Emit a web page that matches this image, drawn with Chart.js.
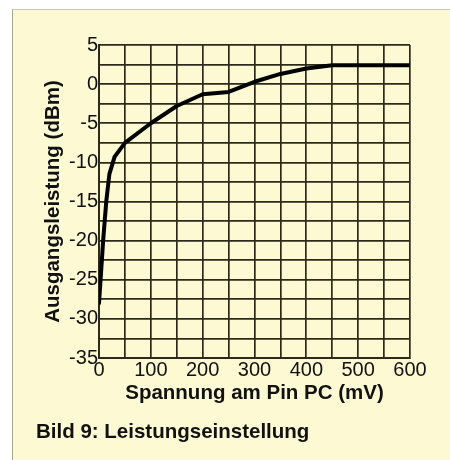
<!DOCTYPE html>
<html>
<head>
<meta charset="utf-8">
<script src="https://cdn.jsdelivr.net/npm/chart.js@4.4.1/dist/chart.umd.min.js"></script>
<style>
  html, body { margin: 0; padding: 0; background: #ffffff; }
  #frame {
    position: absolute; left: 12px; top: 9px; width: 438px; height: 451px;
    background: #fdf9d3;
    border-left: 1px solid #a9a78e;
    border-top: 1px solid #c9c8bd;
  }
  #wrap { position: absolute; left: 0; top: 0; width: 450px; height: 460px; }
  #caption {
    position: absolute; left: 36px; top: 419px;
    font: bold 20.5px "Liberation Sans", Arial, sans-serif;
    color: #111; line-height: 24px;
  }
</style>
</head>
<body>
<div id="frame"></div>
<div id="wrap"><canvas id="powerChart" width="450" height="460"></canvas></div>
<div id="caption">Bild 9: Leistungseinstellung</div>
<script>
// Ausgangsleistung über der Steuerspannung am Pin PC
const voltageMv = [0, 3, 8, 14, 20, 30, 50, 100, 150, 200, 250, 300, 350, 400, 450, 500, 550, 600];
const outputDbm = [-28, -25, -20, -15, -11.5, -9.3, -7.5, -5, -2.8, -1.3, -1.0, 0.3, 1.3, 2.0, 2.4, 2.4, 2.4, 2.4];
const xTicks = [0, 100, 200, 300, 400, 500, 600];
const yTicks = [-35, -30, -25, -20, -15, -10, -5, 0, 5];

document.addEventListener("DOMContentLoaded", function () {
    const canvas = document.getElementById('powerChart');
    const ctx = canvas.getContext('2d');

    const points = voltageMv.map((v, i) => ({ x: v, y: outputDbm[i] }));
    const gridColor = '#2e2a1a';
    const tickFont = { family: '"Liberation Sans", Arial, sans-serif', size: 20 };
    const titleFont = { family: '"Liberation Sans", Arial, sans-serif', size: 20.5, weight: 'bold' };

    new Chart(ctx, {
        type: 'scatter',
        data: {
            datasets: [{
                data: points,
                showLine: true,
                borderColor: '#000000',
                borderWidth: 4,
                borderJoinStyle: 'round',
                borderCapStyle: 'round',
                pointRadius: 0,
                tension: 0
            }]
        },
        options: {
            responsive: false,
            animation: false,
            layout: { padding: { left: 0, top: 45, right: 40, bottom: 0 } },
            plugins: {
                legend: { display: false },
                tooltip: { enabled: false }
            },
            scales: {
                x: {
                    type: 'linear',
                    min: 0,
                    max: 600,
                    afterFit: function (scale) { scale.height = 102; },
                    grid: { color: gridColor, lineWidth: 1.7, drawTicks: false },
                    border: { color: gridColor, width: 2 },
                    ticks: {
                        stepSize: 50,
                        padding: 0,
                        maxRotation: 0,
                        autoSkip: false,
                        color: '#111',
                        font: tickFont,
                        callback: v => xTicks.includes(v) ? String(v) : ''
                    },
                    title: {
                        display: true,
                        text: 'Spannung am Pin PC (mV)',
                        color: '#111',
                        font: titleFont,
                        padding: { top: 0, bottom: 54 }
                    }
                },
                y: {
                    type: 'linear',
                    min: -35,
                    max: 5,
                    afterFit: function (scale) { scale.width = 99; },
                    grid: { color: gridColor, lineWidth: 1.7, drawTicks: false },
                    border: { color: gridColor, width: 2 },
                    ticks: {
                        stepSize: 2.5,
                        padding: 1,
                        autoSkip: false,
                        color: '#111',
                        font: tickFont,
                        callback: v => yTicks.includes(v) ? String(v) : ''
                    },
                    title: {
                        display: true,
                        text: 'Ausgangsleistung (dBm)',
                        color: '#111',
                        font: titleFont,
                        padding: { top: 41, bottom: 0 }
                    }
                }
            }
        }
    });
});
</script>
</body>
</html>
